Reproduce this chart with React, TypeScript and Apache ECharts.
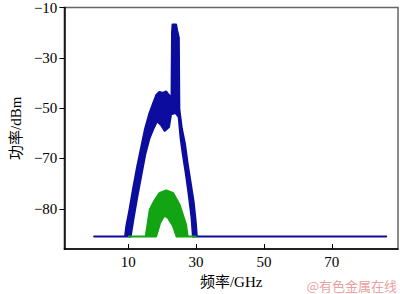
import React, { useEffect, useRef } from "react";
import * as echarts from "echarts";

// Tick values / labels
const xTickValues = [10, 30, 50, 70];
const yTickValues = [-10, -30, -50, -70, -90];
const yTickLabels = ["−10", "−30", "−50", "−70", "−80"];

// Blue spectrum envelope [GHz, dBm]
const blueUpper: [number, number][] = [
  [0, -101], [9.1, -101], [9.5, -96.7], [10.4, -90.4], [11.5, -81.8], [12.7, -73.1],
  [13.9, -65.3], [15.0, -58.2], [16.2, -52.4], [17.4, -48.0], [18.3, -44.8], [19.2, -43.6],
  [20.2, -44.0], [21.2, -43.4], [22.0, -44.8], [22.8, -46], [22.95, -20], [23.1, -16.8],
  [24.1, -16.8], [24.4, -19], [24.9, -22], [25.05, -50.4], [25.8, -58.2], [26.7, -64.1],
  [27.5, -72], [28.4, -79.8], [29.3, -87.6], [29.9, -95.5], [30.2, -101], [86, -101],
];
const blueLower: [number, number][] = [
  [0, -101], [10.7, -101], [11.5, -94.3], [12.7, -84.9], [13.9, -76.3], [15.0, -68.4],
  [16.2, -62.2], [17.4, -58.2], [18.5, -55.1], [19.7, -56.7], [20.8, -59], [22.0, -57.5],
  [22.6, -52.4], [23.65, -52], [23.75, -22], [24.0, -22], [24.05, -52], [24.9, -53.5],
  [25.5, -62.2], [26.1, -68], [27.0, -75.9], [27.8, -83.7], [28.7, -93.5], [29.1, -101],
  [86, -101],
];

// Green spectrum envelope [GHz, dBm]
const greenUpper: [number, number][] = [
  [10.2, -101], [15.2, -101], [16.4, -90.3], [17.9, -86.4], [19.3, -83.7], [21.2, -82.7],
  [23.2, -83.7], [25.1, -88.3], [27.0, -96.2], [27.5, -101], [29.9, -101],
];
const greenLower: [number, number][] = [
  [10.2, -101], [18.2, -101], [19.4, -95.5], [20.6, -92.7], [21.7, -93.5], [23.2, -96.7],
  [24.3, -101], [29.9, -101],
];

const BLUE = "#0c0c9e";
const GREEN = "#12a412";

function bandSeries(upper: [number, number][], lower: [number, number][], color: string) {
  return {
    type: "custom",
    data: [[upper[0][0], upper[0][1]]],
    clip: true,
    renderItem: (_params: any, api: any) => {
      const pts = upper.map((p) => api.coord(p)).concat(
        lower.slice().reverse().map((p) => api.coord(p))
      );
      return {
        type: "polygon",
        shape: { points: pts },
        style: { fill: color, stroke: color, lineWidth: 2.2, lineJoin: "round" },
      };
    },
  };
}

export default function App() {
  const ref = useRef<HTMLDivElement>(null);
  useEffect(() => {
    if (!ref.current) return;
    const chart = echarts.init(ref.current, null, { renderer: "svg" });
    const font = "'Liberation Serif', 'Noto Sans CJK SC', serif";
    chart.setOption({
      animation: false,
      backgroundColor: "#ffffff",
      grid: {
        left: 60, top: 7, right: 2, bottom: 42,
        show: true, borderColor: "#666", borderWidth: 1.5, backgroundColor: "transparent",
      },
      xAxis: {
        type: "value",
        min: -8.8,
        max: 89.5,
        name: "频率/GHz",
        nameLocation: "middle",
        nameGap: 22,
        nameTextStyle: { fontFamily: font, fontSize: 15, color: "#000" },
        splitLine: { show: false },
        axisLine: { show: true, onZero: false, lineStyle: { color: "#000", width: 1.5 } },
        axisTick: { show: true, inside: true, length: 5, customValues: xTickValues, lineStyle: { color: "#000" } },
        axisLabel: {
          customValues: xTickValues,
          fontFamily: font, fontSize: 15, color: "#000", margin: 5,
        },
      },
      yAxis: {
        type: "value",
        min: -106,
        max: -10,
        name: "功率/dBm",
        nameLocation: "middle",
        nameGap: 36,
        nameRotate: 90,
        nameTextStyle: { fontFamily: font, fontSize: 15, color: "#000" },
        splitLine: { show: false },
        axisLine: { show: true, onZero: false, lineStyle: { color: "#000", width: 1.5 } },
        axisTick: { show: true, inside: false, length: 5, customValues: yTickValues, lineStyle: { color: "#000" } },
        axisLabel: {
          customValues: yTickValues,
          formatter: (v: number) => {
            const i = yTickValues.indexOf(Math.round(v));
            return i >= 0 ? yTickLabels[i] : "";
          },
          fontFamily: font, fontSize: 15, color: "#000", margin: 7,
        },
      },
      series: [
        bandSeries(blueUpper, blueLower, BLUE),
        bandSeries(greenUpper, greenLower, GREEN),
      ],
      graphic: [
        {
          type: "text",
          right: 3,
          bottom: 2,
          style: {
            text: "@有色金属在线",
            fontSize: 13,
            fontFamily: "'Noto Sans CJK SC', sans-serif",
            fill: "#eaa0a0",
          },
        },
      ],
    });
    return () => chart.dispose();
  }, []);
  return <div ref={ref} style={{ width: 400, height: 294, position: "absolute", left: 0, top: 0 }} />;
}
